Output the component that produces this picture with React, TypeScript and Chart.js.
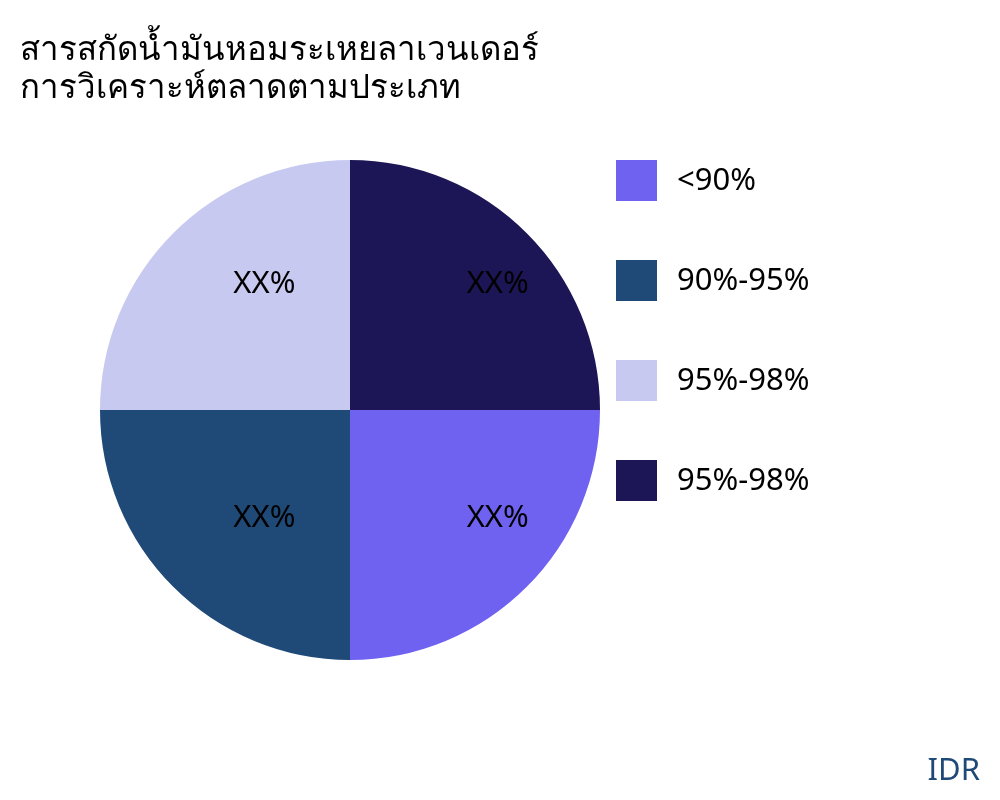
import { useEffect, useRef } from "react"
import { Chart, registerables } from "chart.js"

Chart.register(...registerables)

const categories = ["<90%", "90%-95%", "95%-98%", "95%-98%"]
const shares = [25, 25, 25, 25]
const sliceLabels = ["XX%", "XX%", "XX%", "XX%"]
const colors = ["#7062f1", "#1f4a78", "#c8c9f0", "#1c1656"]

const titleLines = ["สารสกัดน้ำมันหอมระเหยลาเวนเดอร์", "การวิเคราะห์ตลาดตามประเภท"]

const FONT = '"Noto Sans", "DejaVu Sans", sans-serif'

// write the XX% labels inside each slice
const sliceLabelPlugin = {
  id: "sliceLabels",
  afterDatasetsDraw(chart: Chart) {
    const ctx = chart.ctx
    const meta = chart.getDatasetMeta(0)
    ctx.save()
    ctx.font = `31px ${FONT}`
    ctx.fillStyle = "#000"
    ctx.textAlign = "left"
    ctx.textBaseline = "alphabetic"
    meta.data.forEach((arc: any, i: number) => {
      const { x, y, startAngle, endAngle, outerRadius } = arc.getProps(
        ["x", "y", "startAngle", "endAngle", "outerRadius"],
        true
      )
      const mid = (startAngle + endAngle) / 2
      const r = outerRadius * 0.66
      ctx.fillText(sliceLabels[i], x + Math.cos(mid) * r, y + Math.sin(mid) * r)
    })
    ctx.restore()
  },
}

export default function App() {
  const chartRef = useRef<HTMLCanvasElement>(null)
  const chartInstance = useRef<Chart | null>(null)

  useEffect(() => {
    if (!chartRef.current) return
    if (chartInstance.current) chartInstance.current.destroy()

    chartInstance.current = new Chart(chartRef.current, {
      type: "pie",
      data: {
        labels: categories,
        datasets: [
          {
            data: shares,
            backgroundColor: colors,
            borderWidth: 0,
          },
        ],
      },
      options: {
        responsive: false,
        animation: false,
        rotation: 90,
        layout: {
          padding: { left: 100, top: 160, right: 400, bottom: 140 },
        },
        plugins: {
          legend: { display: false },
          tooltip: { enabled: false },
        },
      },
      plugins: [sliceLabelPlugin],
    })

    return () => {
      if (chartInstance.current) {
        chartInstance.current.destroy()
        chartInstance.current = null
      }
    }
  }, [])

  return (
    <div
      style={{
        position: "absolute",
        left: 0,
        top: 0,
        width: 1000,
        height: 800,
        background: "#fff",
        fontFamily: FONT,
      }}
    >
      <canvas ref={chartRef} width={1000} height={800} style={{ position: "absolute", left: 0, top: 0 }} />
      <div
        style={{
          position: "absolute",
          left: 20,
          top: 29,
          fontSize: 33,
          lineHeight: "38px",
          color: "#000",
        }}
      >
        {titleLines.map((t, i) => (
          <div key={i}>{t}</div>
        ))}
      </div>
      {categories.map((c, i) => (
        <div
          key={i}
          style={{
            position: "absolute",
            left: 616,
            top: 160 + i * 100,
            height: 41,
            display: "flex",
            alignItems: "center",
          }}
        >
          <div style={{ width: 41, height: 41, background: colors[i] }} />
          <span style={{ marginLeft: 20, marginTop: -5, fontSize: 31, color: "#000" }}>{c}</span>
        </div>
      ))}
      <div
        style={{
          position: "absolute",
          right: 20,
          top: 747,
          fontSize: 31,
          color: "#1f4a78",
        }}
      >
        IDR
      </div>
    </div>
  )
}
